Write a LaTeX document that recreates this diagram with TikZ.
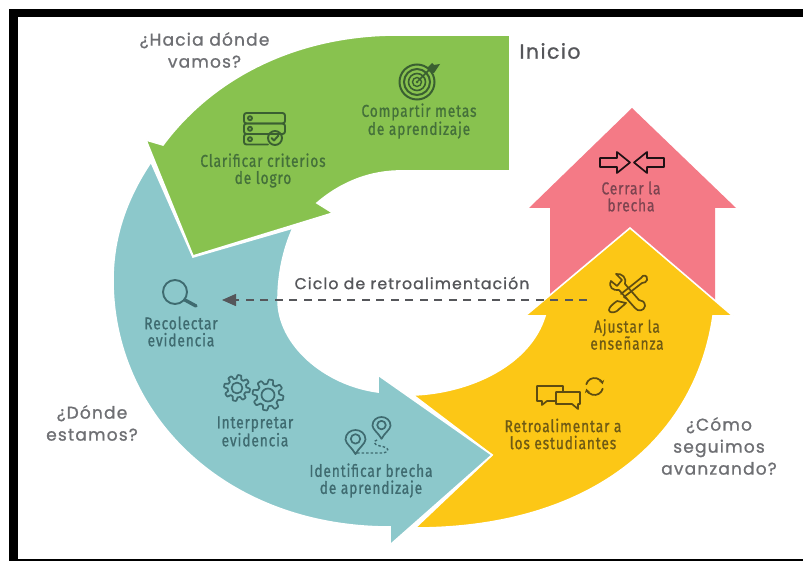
\documentclass[tikz,border=0pt]{standalone}
\usepackage{fontspec}
\setmainfont{Lato}
\newfontfamily\labfont[FakeStretch=0.80,LetterSpace=5,FakeBold=0.9]{Fira Sans}
\newfontfamily\askfont[LetterSpace=7,FakeBold=1.0]{Poppins}
\usetikzlibrary{arrows.meta}
\definecolor{cgreen}{HTML}{88C24F}
\definecolor{cteal}{HTML}{8CC8CB}
\definecolor{cyellow}{HTML}{FCC716}
\definecolor{cred}{HTML}{F47A86}
\definecolor{tgreen}{HTML}{44703A}
\definecolor{tteal}{HTML}{3F6B70}
\definecolor{tyellow}{HTML}{6F5A14}
\definecolor{tred}{HTML}{7D4450}
\definecolor{cgrey}{HTML}{55565A}
\tikzset{
  band/.style={line width=1.6pt,draw=white,line join=miter},
  stage/.style={font=\labfont\fontsize{17.2}{17}\selectfont,align=center,inner sep=0pt},
  ask/.style={font=\askfont\fontsize{17}{22}\selectfont,text=cgrey!85,align=center,inner sep=0pt},
  icon/.style={line width=1.7pt,line join=round,line cap=round},
  pics/gear/.style={code={
    \draw[icon,#1] plot[domain=0:360,samples=145] ({\x}:{.86+.14*max(-1,min(1,2.2*sin(8*\x)))}) -- cycle;
    \draw[icon,#1] (0,0) circle (.42);
  }},
  pics/pinmark/.style={code={
    \draw[icon,#1] (0,1.1) .. controls (-.3,.5) and (-.95,.1) .. (-.95,-.3) .. controls (-.95,-.85) and (-.5,-1.2) .. (0,-1.2) .. controls (.5,-1.2) and (.95,-.85) .. (.95,-.3) .. controls (.95,.1) and (.3,.5) .. cycle;
    \draw[icon,#1] (0,-.35) circle (.45);
  }},
}
\begin{document}
\begin{tikzpicture}[x=1pt,y=-1pt]
\useasboundingbox (0,0) rectangle (803,561);
\fill[white] (0,0) rectangle (803,561);
% frame
\fill[black] (9,9) rectangle (803,17.5);
\fill[black] (9,9) rectangle (17.5,561);
\fill[black] (9,559) rectangle (803,561);
% bands
\fill[cred] (632,108) -- (736,208) -- (715,208) -- (715,300) -- (550,300) -- (550,208) -- (529,208) -- cycle;
\path[band,fill=cyellow] (413,395) .. controls (470,393) and (530,365) .. (545,316) -- (525,316) -- (630,228) -- (733,316) -- (713,316) .. controls (695,440) and (590,528) .. (415,528) -- (492,455) -- cycle;
\path[band,fill=cteal] (151,162) .. controls (122,205) and (113,245) .. (113,280) .. controls (113,415) and (225,527) .. (390,527) -- (390,545) -- (492,455) -- (378,375) -- (378,392) .. controls (325,385) and (278,345) .. (278,300) .. controls (278,275) and (283,250) .. (293,228) -- (193,257) -- cycle;
\path[band,fill=cgreen] (163,145) .. controls (215,75) and (300,35) .. (397,35) -- (510,35) -- (510,171) -- (397,171) .. controls (365,172) and (338,185) .. (317,203) -- (333,213) -- (193,256) -- (146,140) -- cycle;
% questions
\node[ask] (q1) at (204.5,50) {¿Hacia dónde\\vamos?};
\node[ask] (q2) at (92,423) {¿Dónde\\estamos?};
\node[ask] (q3) at (719,446) {¿Cómo\\seguimos\\avanzando?};
\node[font=\askfont\fontsize{20.5}{22}\selectfont,text=cgrey,inner sep=0pt] (inicio) at (550,51) {Inicio};
% stage labels
\node[stage,text=tgreen] (s1) at (419,121) {Compartir metas\\de aprendizaje};
\node[stage,text=tgreen] (s2) at (263,170.5) {Clarificar criterios\\de logro};
\node[stage,text=tteal] (s3) at (181,331.5) {Recolectar\\evidencia};
\node[stage,text=tteal] (s4) at (255,431.5) {Interpretar\\evidencia};
\node[stage,text=tteal] (s5) at (371,480.5) {Identificar brecha\\de aprendizaje};
\node[stage,text=tyellow] (s6) at (563,434) {Retroalimentar a\\los estudiantes};
\node[stage,text=tyellow] (s7) at (627,334.5) {Ajustar la\\enseñanza};
\node[stage,text=tred] (s8) at (631,196.5) {Cerrar la\\brecha};
% feedback cycle
\node[font=\askfont\fontsize{15.7}{17}\selectfont,text=cgrey,inner sep=0pt] (ciclo) at (412,283) {Ciclo de retroalimentación};
\coordinate (fbstart) at (587,300);
\coordinate (fbend) at (222,300);
\draw[cgrey,line width=1.5pt,dash pattern=on 8pt off 6.5pt,-{Triangle[length=14pt,width=12pt]}] (fbstart) -- (fbend);
% icon: target
\begin{scope}[shift={(417,82)},tgreen!85!black]
\draw[line width=2pt] (0,0) circle (17.5) (0,0) circle (13);
\draw[line width=1.6pt] (0,0) circle (8.5);
\draw[line width=1.4pt] (0,0) circle (4.5);
\fill (0,0) circle (1.5);
\draw[line width=1.7pt] (1,-1) -- (15,-15);
\fill (10,-14) -- (15,-19) -- (17,-17) -- (23,-18) -- (17,-9) -- (13,-10) -- cycle;
\end{scope}
% icon: server list
\begin{scope}[tgreen!85!black,icon,line width=1.9pt]
\draw[rounded corners=2.5pt] (244,113) rectangle (285,123.5);
\draw[rounded corners=2.5pt] (244,123.5) rectangle (285,134);
\draw[rounded corners=2.5pt] (268,134) -- (244,134) -- (244,144.5) -- (268,144.5);
\draw (250,118.2) circle (2) (250,128.8) circle (2) (250,139.2) circle (2);
\draw (275,138) circle (7);
\draw (271.5,138) -- (274,140.5) -- (278.5,135.5);
\end{scope}
% icon: magnifier
\begin{scope}[tteal,icon]
\draw[line width=1.9pt] (175,292) circle (12);
\draw[line width=3.4pt] (185,300) -- (196,306);
\end{scope}
% icon: gears
\pic[scale=13] at (237,388) {gear=tteal};
\pic[scale=15.5] at (268,395) {gear=tteal};
% icon: pins
\pic[scale=10.5] at (355.5,442.6) {pinmark=tteal};
\pic[scale=9.5] at (381.5,428.4) {pinmark=tteal};
\draw[tteal,line width=1.4pt,dash pattern=on 2.5pt off 2pt] (357,453) -- (382,453) .. controls (392,452) and (388,447) .. (380,446) .. controls (372,444) and (374,441) .. (377,440);
% icon: bubbles
\begin{scope}[tyellow!85!black,icon]
\draw (556,401) -- (547,401) -- (542,405) -- (542,401) -- (537,401) -- (537,386) -- (563,386) -- (563,392);
\draw (556,392) -- (580,392) -- (580,404) -- (578,404) -- (578,409) -- (572,404) -- (556,404) -- cycle;
\draw[-{Stealth[length=4pt,width=5pt]}] (594.5,386.5) ++(15:8.5) arc[start angle=15,end angle=165,radius=8.5];
\draw[-{Stealth[length=4pt,width=5pt]}] (594.5,386.5) ++(195:8.5) arc[start angle=195,end angle=345,radius=8.5];
\end{scope}
% icon: tools
\begin{scope}[shift={(628,293)},tyellow!85!black,icon]
\draw (-17,-12) .. controls (-20,-6) and (-15,-2) .. (-9,-3) -- (7,15) .. controls (10,19) and (16,18) .. (17,13) .. controls (17,9) and (14,7) .. (11,7) -- (-3,-9) .. controls (-1,-15) and (-6,-20) .. (-12,-19) -- (-6,-13) -- (-11,-7) -- cycle;
\draw (13,-15) .. controls (15,-19) and (20,-18) .. (19,-13) .. controls (19,-11) and (16,-10) .. (14,-10) -- (-4,4) -- (-1,6);
\draw (13,-15) -- (-7,1);
\draw (-11,8) .. controls (-15,11) and (-19,14) .. (-19,17) .. controls (-19,20) and (-14,20) .. (-11,18) .. controls (-8,15) and (-5,13) .. (-2,10) -- (-11,8);
\end{scope}
% icon: converging arrows
\begin{scope}[black!75!tred,icon]
\draw (600,158) -- (617,158) -- (617,152) -- (630,162.5) -- (617,173) -- (617,167) -- (600,167) -- cycle;
\draw (664,158) -- (647,158) -- (647,152) -- (634,162.5) -- (647,173) -- (647,167) -- (664,167) -- cycle;
\end{scope}
\end{tikzpicture}
\end{document}
